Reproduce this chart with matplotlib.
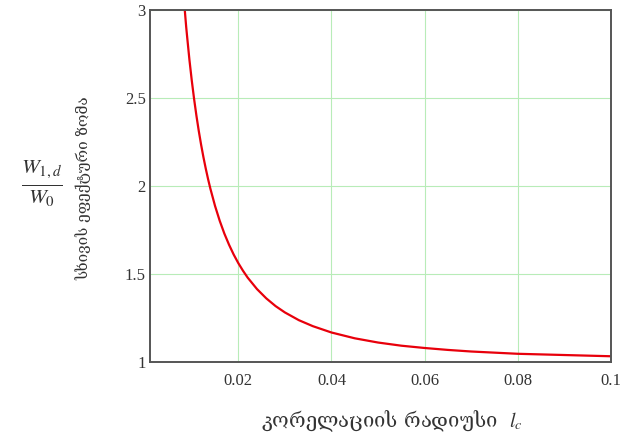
# beam width vs correlation radius
import numpy as np
import matplotlib.pyplot as plt

plt.rcParams['mathtext.fontset'] = 'stix'

lc = [0.0080, 0.0085, 0.0088, 0.009, 0.0095, 0.010, 0.0105, 0.011, 0.0115, 0.012,
      0.0125, 0.013, 0.0135, 0.014, 0.015, 0.016, 0.017, 0.018, 0.019, 0.020,
      0.021, 0.022, 0.024, 0.026, 0.028, 0.030, 0.033, 0.036, 0.040, 0.045,
      0.050, 0.055, 0.060, 0.065, 0.070, 0.080, 0.090, 0.100]
w_ratio = [3.16, 3.00, 2.905, 2.85, 2.717, 2.60, 2.495, 2.40, 2.314, 2.236,
           2.165, 2.10, 2.040, 1.985, 1.887, 1.803, 1.730, 1.667, 1.611, 1.562,
           1.519, 1.480, 1.415, 1.362, 1.318, 1.282, 1.238, 1.204, 1.168, 1.135,
           1.111, 1.093, 1.080, 1.069, 1.060, 1.047, 1.040, 1.033]
xticks = [0.02, 0.04, 0.06, 0.08, 0.1]
xtick_labels = ['0.02', '0.04', '0.06', '0.08', '0.1']
yticks = [1, 1.5, 2, 2.5, 3]
ytick_labels = ['1', '1.5', '2', '2.5', '3']

fig = plt.figure(figsize=(6.35, 4.41), dpi=100)
ax = fig.add_axes([0.236, 0.179, 0.726, 0.798])

ax.plot(lc, w_ratio, color='#e8000b', lw=1.6)
ax.set_xlim(0.001, 0.1)
ax.set_ylim(1, 3)

ax.set_xticks(xticks)
ax.set_xticklabels(xtick_labels, family='Liberation Serif', fontsize=12, color='#333333')
ax.set_yticks(yticks)
ax.set_yticklabels(ytick_labels, family='Liberation Serif', fontsize=12, color='#333333')
ax.tick_params(axis='x', length=0, pad=8)
ax.tick_params(axis='y', length=0, pad=3)
ax.grid(True, color='#b8ecb8', lw=0.8)
for s in ax.spines.values():
    s.set_color('#555555')
    s.set_linewidth(1.4)

fig.text(0.618, 0.045, r'კორელაციის რადიუსი  $l_c$', ha='center', va='center',
         fontsize=14.5, color='#333333', family=['DejaVu Serif', 'DejaVu Sans'])
fig.text(0.132, 0.574, 'სხივის ეფექტური ზომა', rotation=90, ha='center', va='center',
         fontsize=11, color='#333333', family=['DejaVu Serif', 'DejaVu Sans'])
fig.text(0.066, 0.585, r'$\frac{W_{1,d}}{W_0}$', ha='center', va='center',
         fontsize=22, color='#333333')

plt.savefig('out.png', dpi=100)
